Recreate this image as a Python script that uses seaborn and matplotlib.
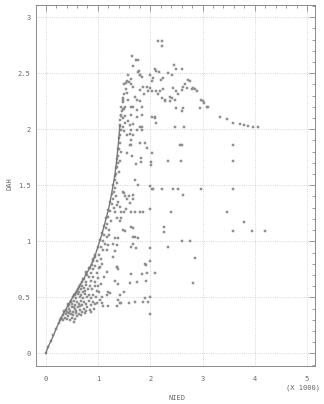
import matplotlib
matplotlib.use("Agg")
import matplotlib.pyplot as plt
from matplotlib.ticker import MultipleLocator
import seaborn as sb
import pandas as pd

# NIED (x 1000) vs DAH

# leading edge of the point cloud
edge_x = [0.00, 0.05, 0.10, 0.15, 0.20, 0.25, 0.30, 0.36, 0.42, 0.48, 0.54, 0.60, 0.66, 0.72, 0.78, 0.84,
          0.90, 0.95, 1.00, 1.04, 1.08, 1.12, 1.16, 1.20, 1.23, 1.26, 1.29, 1.32, 1.34, 1.36, 1.38, 1.40, 1.42]
edge_y = [0.00, 0.06, 0.11, 0.16, 0.22, 0.27, 0.32, 0.37, 0.42, 0.47, 0.52, 0.56, 0.61, 0.66, 0.71, 0.76,
          0.82, 0.88, 0.95, 1.01, 1.07, 1.14, 1.21, 1.28, 1.35, 1.42, 1.50, 1.58, 1.65, 1.73, 1.82, 1.92, 2.03]

# dense cloud under the edge
cloud_x = [0.28, 0.31, 0.34, 0.37, 0.40, 0.43, 0.46, 0.50, 0.53, 0.57, 0.60, 0.64, 0.68, 0.33, 0.39, 0.45, 0.55,
           0.35, 0.38, 0.41, 0.44, 0.47, 0.50, 0.53, 0.56, 0.59, 0.62, 0.66, 0.70, 0.73, 0.77, 0.80, 0.84, 0.48,
           0.58, 0.75, 0.87, 0.92,
           0.42, 0.45, 0.48, 0.51, 0.54, 0.57, 0.60, 0.63, 0.67, 0.70, 0.74, 0.78, 0.82, 0.86, 0.90, 0.95, 0.99,
           0.65, 0.55,
           0.53, 0.56, 0.59, 0.62, 0.65, 0.68, 0.71, 0.75, 0.79, 0.83, 0.87, 0.91, 0.96, 0.72, 0.64, 0.58,
           0.61, 0.64, 0.67, 0.70, 0.73, 0.77, 0.81, 0.85, 0.89, 0.94, 0.98, 0.76,
           0.70, 0.74, 0.78, 0.82, 0.86, 0.90, 0.95, 1.00, 0.80,
           0.78, 0.82, 0.86, 0.90, 0.94, 0.98, 1.02, 0.88,
           0.90, 0.94, 0.98, 1.02, 1.06,
           1.05, 1.10, 1.12, 1.15, 1.18, 1.20, 1.24, 1.26, 1.28, 1.30, 1.32, 1.33, 1.35, 1.36, 1.38, 1.39, 1.40,
           1.42, 1.43, 1.45, 1.10, 1.14, 1.22, 1.25, 1.30, 1.34, 1.36, 1.40, 1.42, 1.44,
           1.42, 1.44, 1.46, 1.45, 1.47, 1.48, 1.50, 1.49, 1.51, 1.52, 1.47, 1.53, 1.50]
cloud_y = [0.30, 0.31, 0.30, 0.32, 0.31, 0.33, 0.30, 0.32, 0.34, 0.31, 0.33, 0.35, 0.34, 0.34, 0.35, 0.36, 0.28,
           0.38, 0.39, 0.37, 0.40, 0.38, 0.41, 0.37, 0.40, 0.38, 0.41, 0.39, 0.37, 0.40, 0.38, 0.41, 0.39, 0.35,
           0.36, 0.36, 0.37, 0.40,
           0.44, 0.43, 0.46, 0.44, 0.47, 0.43, 0.46, 0.44, 0.47, 0.43, 0.46, 0.44, 0.47, 0.43, 0.46, 0.44, 0.45,
           0.42, 0.41,
           0.50, 0.52, 0.49, 0.53, 0.50, 0.52, 0.49, 0.53, 0.50, 0.52, 0.49, 0.52, 0.50, 0.55, 0.55, 0.54,
           0.57, 0.59, 0.57, 0.60, 0.58, 0.61, 0.57, 0.60, 0.57, 0.60, 0.56, 0.56,
           0.64, 0.66, 0.64, 0.68, 0.65, 0.68, 0.64, 0.67, 0.70,
           0.73, 0.76, 0.72, 0.75, 0.78, 0.72, 0.76, 0.79,
           0.84, 0.86, 0.82, 0.88, 0.84,
           0.95, 1.00, 1.06, 1.12, 1.15, 1.22, 1.27, 1.33, 1.38, 1.44, 1.48, 1.55, 1.60, 1.66, 1.70, 1.76, 1.82,
           1.88, 1.95, 1.99, 0.92, 0.98, 1.10, 1.18, 1.30, 1.40, 1.52, 1.62, 1.72, 1.80,
           2.08, 2.12, 2.16, 2.20, 2.24, 2.28, 2.31, 2.18, 2.12, 2.06, 2.02, 2.36, 2.40]

# sparse points to the right
spread_x = [2.15, 2.22, 2.22, 1.66, 1.73, 1.77, 1.68, 1.79, 1.81, 1.58, 1.53, 1.56, 1.64, 1.67, 1.84, 2.09,
            2.12, 1.99, 2.06, 2.03, 2.17, 2.24, 2.20, 2.46, 2.49, 2.60, 2.34, 2.41, 2.25, 2.12, 1.93, 1.99,
            2.03, 1.80, 1.87, 1.89, 1.71, 1.74, 1.55, 1.58, 1.48, 1.52, 1.47, 1.64, 1.67, 1.74, 1.80, 1.84,
            1.64, 1.74, 1.45, 1.48, 1.43, 1.58, 1.61, 1.67, 1.84, 1.80, 1.84, 2.03, 2.10, 2.12, 2.22, 2.28,
            2.38, 2.41, 2.50, 2.47, 2.54, 2.50, 2.62, 2.60, 2.47, 2.65, 2.62, 2.66, 2.70, 2.73, 2.76, 2.79,
            2.85, 2.89, 2.98, 3.01, 3.03, 2.95, 3.08, 3.11, 3.33, 3.46, 3.59, 3.72, 3.79, 3.87, 3.97, 4.06,
            1.60, 1.76, 1.80, 1.64, 1.96, 2.19, 2.15, 2.44, 2.60, 2.82, 2.28, 2.38, 2.09, 1.61, 1.64,
            2.57, 2.60, 2.34, 2.59, 3.59, 3.59, 2.22, 2.43, 2.54, 2.98, 3.59, 2.62, 2.06, 2.39, 3.46, 3.80,
            2.27, 2.27, 3.59, 3.95, 4.19, 2.60, 2.76, 2.34, 2.85, 2.01, 2.01, 2.04, 1.93, 1.90, 1.80, 1.82,
            1.82, 1.73, 1.66, 1.55, 1.61, 1.64, 1.71, 1.77, 1.60, 1.67, 1.87, 1.80, 1.71, 1.64, 1.99, 2.03,
            1.99, 1.67, 1.61, 1.54, 1.50, 1.45, 1.48, 1.50, 1.52, 1.55, 1.39, 1.36, 1.42, 1.33, 1.36, 1.42,
            1.45, 1.64, 1.67, 1.67, 1.71, 1.64, 1.67, 1.77, 1.48, 1.52, 1.39, 1.33, 1.36, 1.21, 1.29, 1.33,
            1.29, 1.36, 1.17, 1.20, 1.17, 1.99, 1.99, 1.91, 1.73, 1.50, 1.55, 1.64, 1.67, 1.74, 1.84,
            1.07, 1.04, 1.17, 1.36, 1.39, 1.90, 1.93, 2.09, 1.64, 1.84, 1.33, 1.39, 1.61, 1.74, 1.91, 2.82,
            1.19, 1.23, 1.17, 1.50, 1.42, 1.39, 1.42, 1.37, 1.45, 1.59, 1.71, 1.87, 1.90, 1.99, 1.96, 1.20,
            1.10, 1.07, 1.04, 1.99, 1.00, 1.03, 1.06, 1.12, 1.08]
spread_y = [2.79, 2.79, 2.74, 2.65, 2.62, 2.62, 2.56, 2.52, 2.48, 2.48, 2.41, 2.43, 2.45, 2.38, 2.47, 2.54,
            2.52, 2.48, 2.46, 2.43, 2.51, 2.46, 2.44, 2.57, 2.54, 2.54, 2.50, 2.48, 2.36, 2.34, 2.38, 2.37,
            2.34, 2.35, 2.38, 2.31, 2.29, 2.26, 2.32, 2.26, 2.26, 2.20, 2.18, 2.20, 2.20, 2.17, 2.25, 2.20,
            2.13, 2.11, 2.13, 2.10, 2.04, 2.07, 2.04, 2.05, 2.13, 2.02, 2.02, 2.11, 2.11, 2.06, 2.28, 2.26,
            2.29, 2.28, 2.34, 2.26, 2.31, 2.19, 2.19, 2.16, 2.02, 2.02, 2.38, 2.40, 2.37, 2.44, 2.43, 2.36,
            2.36, 2.34, 2.26, 2.25, 2.23, 2.19, 2.20, 2.20, 2.11, 2.09, 2.06, 2.05, 2.04, 2.03, 2.02, 2.02,
            2.42, 2.51, 2.48, 2.40, 2.34, 2.34, 2.31, 2.37, 2.35, 2.37, 2.25, 2.25, 2.10, 1.96, 1.90,
            1.86, 1.86, 1.72, 1.72, 1.86, 1.72, 1.47, 1.47, 1.47, 1.47, 1.47, 1.41, 1.47, 1.26, 1.26, 1.17,
            1.13, 1.08, 1.09, 1.09, 1.09, 1.00, 1.00, 0.95, 0.85, 1.71, 1.68, 1.79, 1.83, 1.88, 1.88, 1.74,
            1.71, 1.69, 1.76, 1.79, 1.86, 1.86, 1.55, 1.50, 1.40, 1.41, 1.26, 1.26, 1.26, 1.26, 1.29, 1.47,
            1.49, 1.38, 1.34, 1.29, 1.26, 1.26, 1.44, 1.43, 1.40, 1.38, 1.35, 1.32, 1.31, 1.26, 1.21, 1.18,
            1.21, 1.13, 1.12, 1.04, 1.04, 0.95, 0.98, 1.03, 1.10, 1.09, 1.03, 1.03, 0.97, 1.06, 0.98, 0.91,
            0.86, 0.77, 0.92, 0.97, 1.04, 0.94, 0.82, 0.79, 0.94, 1.98, 1.95, 1.99, 1.95, 1.99, 1.99,
            0.80, 0.77, 0.73, 0.77, 0.75, 0.80, 0.72, 0.72, 0.71, 0.71, 0.65, 0.62, 0.63, 0.64, 0.65, 0.63,
            0.55, 0.54, 0.52, 0.55, 0.52, 0.48, 0.45, 0.42, 0.45, 0.45, 0.46, 0.46, 0.49, 0.50, 0.46, 0.42,
            0.42, 0.45, 0.48, 0.35, 0.60, 0.55, 0.62, 0.68, 0.50]

x_ticks = [0, 1, 2, 3, 4, 5]
y_ticks = [0, 0.5, 1, 1.5, 2, 2.5, 3]
y_ticklabels = ["0", "0.5", "1", "1.5", "2", "2.5", "3"]

df = pd.DataFrame({
    "NIED": edge_x + cloud_x + spread_x,
    "DAH": edge_y + cloud_y + spread_y,
})

sb.set_style("white")
plt.rcParams["font.family"] = ["DejaVu Sans Mono"]
ink = "#8a8a8a"
txt = "#666666"

fig = plt.figure(figsize=(3.24, 4.04), dpi=100)
ax = fig.add_axes([0.111, 0.094, 0.861, 0.894])

# edge is so dense in the scan it reads as a line
sb.lineplot(x=edge_x, y=edge_y, sort=False, ax=ax, color="#7a7a7a", linewidth=1.0)
sb.scatterplot(data=df, x="NIED", y="DAH", ax=ax, marker="s", s=4, color="#a0a0a0",
               edgecolor="#747474", linewidth=0.3)

ax.set_xlim(-0.185, 5.15)
ax.set_ylim(-0.113, 3.11)
ax.set_xticks(x_ticks)
ax.set_xticklabels([str(t) for t in x_ticks])
ax.set_yticks(y_ticks)
ax.set_yticklabels(y_ticklabels)
ax.xaxis.set_minor_locator(MultipleLocator(0.2))
ax.yaxis.set_minor_locator(MultipleLocator(0.1))
ax.tick_params(which="both", direction="in", top=True, right=True, color=ink, width=0.6)
ax.tick_params(which="major", length=4, labelsize=5, labelcolor=txt)
ax.tick_params(axis="x", which="major", pad=7)
ax.tick_params(axis="y", which="major", pad=4)
ax.tick_params(which="minor", length=2.5)
ax.grid(True, which="major", linestyle=":", color="#c8c8c8", linewidth=0.6)
for s in ax.spines.values():
    s.set_color(ink)
    s.set_linewidth(0.7)

ax.set_xlabel("")
ax.set_ylabel("")
fig.text(177 / 324, 1 - 398 / 404, "NIED", ha="center", va="center", fontsize=5, color=txt)
fig.text(9 / 324, 1 - 184 / 404, "DAH", ha="center", va="center", rotation=90, fontsize=5, color=txt)
fig.text(0.988, 1 - 388 / 404, "(X 1000)", ha="right", va="center", fontsize=5, color=txt)

fig.savefig("out.png", dpi=100)
